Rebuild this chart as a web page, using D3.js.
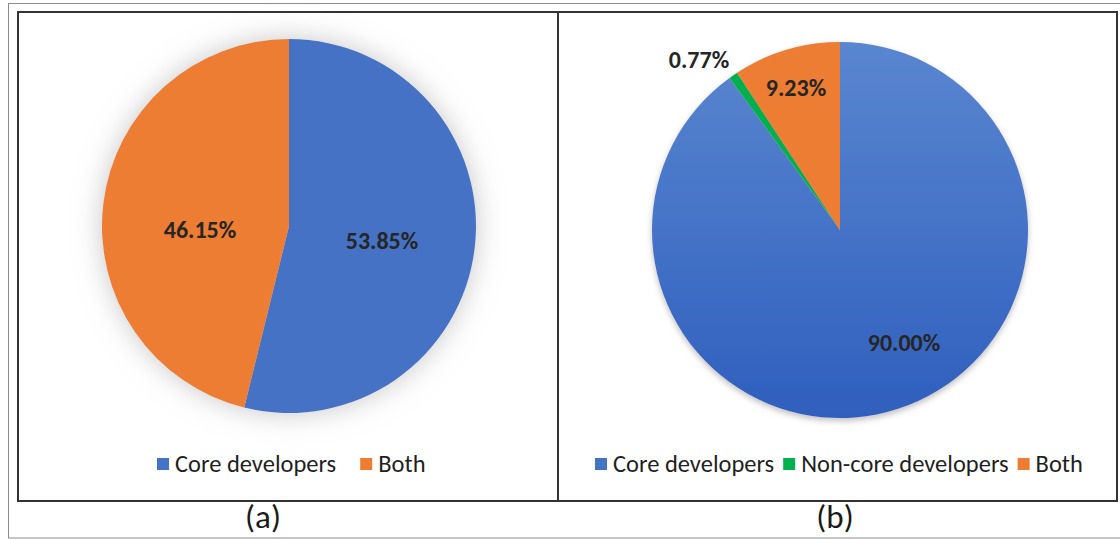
<!DOCTYPE html>
<html>
<head>
<meta charset="utf-8">
<script src="https://cdn.jsdelivr.net/npm/d3@7"></script>
<style>
  html, body { margin: 0; padding: 0; background: #ffffff; }
  svg { display: block; }
  text { font-family: Carlito, Calibri, Lato, "Open Sans", sans-serif; }
</style>
</head>
<body>
<svg id="chart" width="1120" height="540"></svg>
<script>
// Developer share per group, two panels
const categoriesA = ["Core developers", "Both"];
const valuesA = [53.85, 46.15];

const categoriesB = ["Core developers", "Non-core developers", "Both"];
const valuesB = [90.00, 0.77, 9.23];

const panelLabels = ["(a)", "(b)"];

const colorScale = d3.scaleOrdinal()
  .domain(["Core developers", "Non-core developers", "Both"])
  .range(["#4472C4", "#00B050", "#ED7D31"]);

const svg = d3.select("#chart");
const defs = svg.append("defs");

// soft wide glow behind the left pie
const glow = defs.append("filter").attr("id", "glowA")
  .attr("x", "-30%").attr("y", "-30%").attr("width", "160%").attr("height", "160%");
glow.append("feGaussianBlur").attr("in", "SourceAlpha").attr("stdDeviation", 14).attr("result", "b");
glow.append("feColorMatrix").attr("in", "b").attr("type", "matrix")
  .attr("values", "0 0 0 0 0.45  0 0 0 0 0.45  0 0 0 0 0.45  0 0 0 0.75 0").attr("result", "c");
const gm = glow.append("feMerge");
gm.append("feMergeNode").attr("in", "c");
gm.append("feMergeNode").attr("in", "SourceGraphic");

// tighter drop shadow below the right pie
const shadow = defs.append("filter").attr("id", "shadowB")
  .attr("x", "-20%").attr("y", "-20%").attr("width", "140%").attr("height", "140%");
shadow.append("feGaussianBlur").attr("in", "SourceAlpha").attr("stdDeviation", 3).attr("result", "b");
shadow.append("feOffset").attr("in", "b").attr("dx", 0).attr("dy", 3).attr("result", "o");
shadow.append("feColorMatrix").attr("in", "o").attr("type", "matrix")
  .attr("values", "0 0 0 0 0.3  0 0 0 0 0.3  0 0 0 0 0.3  0 0 0 0.6 0").attr("result", "c");
const sm = shadow.append("feMerge");
sm.append("feMergeNode").attr("in", "c");
sm.append("feMergeNode").attr("in", "SourceGraphic");

// vertical gradient on the large blue slice (local coordinates of the right pie)
const gradL = defs.append("linearGradient").attr("id", "blueGradLocal")
  .attr("gradientUnits", "userSpaceOnUse")
  .attr("x1", 0).attr("y1", -188).attr("x2", 0).attr("y2", 188);
gradL.append("stop").attr("offset", "0%").attr("stop-color", "#5A86D0");
gradL.append("stop").attr("offset", "100%").attr("stop-color", "#2F5FBE");

// frames
svg.append("rect").attr("x", 8.5).attr("y", 3.5).attr("width", 1120).attr("height", 534.5)
  .attr("fill", "none").attr("stroke", "#8c8c8c").attr("stroke-width", 1);
svg.append("rect").attr("x", 18).attr("y", 12).attr("width", 1099).attr("height", 489)
  .attr("fill", "none").attr("stroke", "#333333").attr("stroke-width", 2);
svg.append("line").attr("x1", 558).attr("x2", 558).attr("y1", 12).attr("y2", 501)
  .attr("stroke", "#333333").attr("stroke-width", 2);

const pie = d3.pie().sort(null).value(d => d.value);

function drawPie(cfg) {
  const data = cfg.cats.map((c, i) => ({ cat: c, value: cfg.vals[i] }));
  const arcs = pie(data);
  const arc = d3.arc().innerRadius(0).outerRadius(cfg.r);
  const g = svg.append("g").attr("transform", `translate(${cfg.cx},${cfg.cy})`);
  const slices = g.append("g").attr("filter", `url(#${cfg.filter})`);
  slices.selectAll("path").data(arcs).join("path")
    .attr("d", arc)
    .attr("fill", d => (cfg.gradFirst && d.index === 0) ? "url(#blueGradLocal)" : colorScale(d.data.cat));

  g.selectAll("text.val").data(arcs).join("text")
    .attr("class", "val")
    .attr("x", d => cfg.labelPos[d.index][0])
    .attr("y", d => cfg.labelPos[d.index][1])
    .attr("text-anchor", "middle")
    .attr("dominant-baseline", "central")
    .attr("font-size", 24)
    .attr("font-weight", "bold")
    .attr("fill", "#262626")
    .text(d => d.data.value.toFixed(2) + "%");
  return g;
}

// panel (a)
drawPie({
  cats: categoriesA, vals: valuesA, cx: 289, cy: 226, r: 187, filter: "glowA",
  labelPos: [[93, 14], [-89, 3]]
});

// panel (b)
drawPie({
  cats: categoriesB, vals: valuesB, cx: 840, cy: 230, r: 188, filter: "shadowB", gradFirst: true,
  labelPos: [[64, 112], [-141, -171], [-44, -143]]
});

// legends
function drawLegend(items, x0, y, gaps) {
  const g = svg.append("g");
  let x = x0;
  items.forEach((it) => {
    g.append("rect").attr("x", x).attr("y", y - 6).attr("width", 12).attr("height", 12)
      .attr("fill", colorScale(it));
    const t = g.append("text").attr("x", x + 18).attr("y", y)
      .attr("dominant-baseline", "central")
      .attr("font-size", 24.5).attr("fill", "#1f1f1f").text(it);
    x = x + 18 + t.node().getComputedTextLength() + gaps;
  });
}
drawLegend(categoriesA, 157, 464, 24);
drawLegend(categoriesB, 595, 464, 9);

// panel captions
svg.selectAll("text.cap").data(panelLabels).join("text")
  .attr("class", "cap")
  .attr("x", (d, i) => i === 0 ? 263 : 835)
  .attr("y", 517)
  .attr("text-anchor", "middle")
  .attr("dominant-baseline", "central")
  .attr("font-size", 33)
  .attr("fill", "#1a1a1a")
  .text(d => d);
</script>
</body>
</html>
